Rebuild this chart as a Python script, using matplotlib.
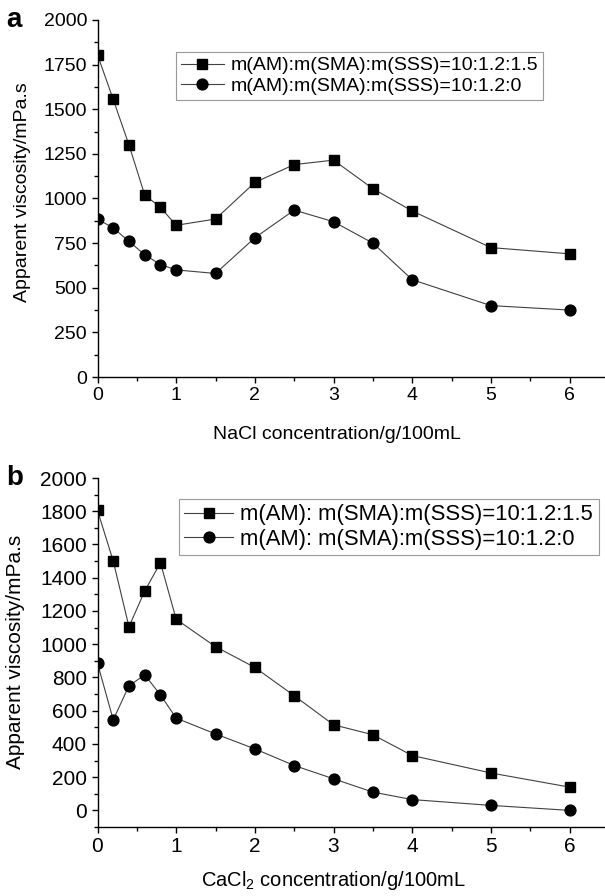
import matplotlib
matplotlib.use("Agg")
import matplotlib.pyplot as plt
from matplotlib.ticker import MultipleLocator

plt.rcParams['font.family'] = ['Liberation Sans', 'DejaVu Sans']
plt.rcParams['mathtext.fontset'] = 'custom'
plt.rcParams['mathtext.rm'] = 'Liberation Sans'
plt.rcParams['mathtext.it'] = 'Liberation Sans'

conc = [0, 0.2, 0.4, 0.6, 0.8, 1, 1.5, 2, 2.5, 3, 3.5, 4, 5, 6]

nacl_sss15 = [1805, 1555, 1300, 1020, 950, 850, 885, 1090, 1190, 1215, 1055, 930, 725, 690]
nacl_sss0 = [885, 835, 760, 685, 630, 600, 580, 780, 935, 870, 750, 545, 400, 375]

cacl_sss15 = [1805, 1500, 1105, 1320, 1490, 1150, 985, 860, 690, 515, 455, 330, 225, 140]
cacl_sss0 = [885, 545, 750, 815, 695, 555, 460, 370, 270, 190, 110, 65, 30, 0]

labels_a = ["m(AM):m(SMA):m(SSS)=10:1.2:1.5", "m(AM):m(SMA):m(SSS)=10:1.2:0"]
labels_b = ["m(AM): m(SMA):m(SSS)=10:1.2:1.5", "m(AM): m(SMA):m(SSS)=10:1.2:0"]

W, H = 605, 896
fig = plt.figure(figsize=(W / 100, H / 100), dpi=100)

def axes_px(x0, y0, x1, y1):
    return fig.add_axes([x0 / W, 1 - y1 / H, (x1 - x0) / W, (y1 - y0) / H])

ax_a = axes_px(97.5, 20, 605, 377)
ax_b = axes_px(97.5, 478, 605, 827)

line_kw = dict(color='#404040', lw=0.8, markerfacecolor='black', markeredgecolor='black')

def style(ax, fs):
    for s in ['top', 'right']:
        ax.spines[s].set_visible(False)
    for s in ['left', 'bottom']:
        ax.spines[s].set_linewidth(1.0)
    ax.set_xlim(0, 6.45)
    ax.xaxis.set_major_locator(MultipleLocator(1))
    ax.xaxis.set_minor_locator(MultipleLocator(0.5))
    ax.tick_params(which='major', direction='out', length=4.5, width=1.0, labelsize=fs, pad=3)
    ax.tick_params(which='minor', direction='out', length=3, width=1.0)

def legend(ax, labels_fs, x_px, y_px, top_px, h_px):
    leg = ax.legend(loc='upper left',
                    bbox_to_anchor=((x_px - 97.5) / 507.5, 1 - (y_px - top_px) / h_px),
                    fontsize=labels_fs, frameon=True, fancybox=False, edgecolor='#808080',
                    handlelength=2.2, handletextpad=0.35, borderpad=0.25, labelspacing=0.15,
                    borderaxespad=0)
    leg.get_frame().set_linewidth(0.8)
    return leg

# Panel a
ax_a.plot(conc, nacl_sss15, marker='s', markersize=7.2, label=labels_a[0], **line_kw)
ax_a.plot(conc, nacl_sss0, marker='o', markersize=7.8, label=labels_a[1], **line_kw)
style(ax_a, 14)
ax_a.set_ylim(0, 2000)
ax_a.yaxis.set_major_locator(MultipleLocator(250))
ax_a.yaxis.set_minor_locator(MultipleLocator(125))
fig.text(23 / W, 1 - 192 / H, "Apparent viscosity/mPa.s", fontsize=14, rotation=90,
         ha='center', va='center')
fig.text(337 / W, 1 - 434 / H, "NaCl concentration/g/100mL", fontsize=14,
         ha='center', va='center')
legend(ax_a, 14, 176, 52, 20, 357)
fig.text(6 / W, 1 - 20 / H, "a", fontsize=20, fontweight='bold', va='center', ha='left')

# Panel b
ax_b.plot(conc, cacl_sss15, marker='s', markersize=7.2, label=labels_b[0], **line_kw)
ax_b.plot(conc, cacl_sss0, marker='o', markersize=7.8, label=labels_b[1], **line_kw)
style(ax_b, 15)
ax_b.set_ylim(-100, 2000)
ax_b.yaxis.set_major_locator(MultipleLocator(200))
ax_b.yaxis.set_minor_locator(MultipleLocator(100))
fig.text(16 / W, 1 - 652 / H, "Apparent viscosity/mPa.s", fontsize=15, rotation=90,
         ha='center', va='center')
fig.text(333 / W, 1 - 880 / H, "CaCl$_2$ concentration/g/100mL", fontsize=14.5,
         ha='center', va='center')
legend(ax_b, 15.8, 179, 499, 478, 349)
fig.text(6 / W, 1 - 478 / H, "b", fontsize=20, fontweight='bold', va='center', ha='left')

fig.savefig("out.png", dpi=100)
